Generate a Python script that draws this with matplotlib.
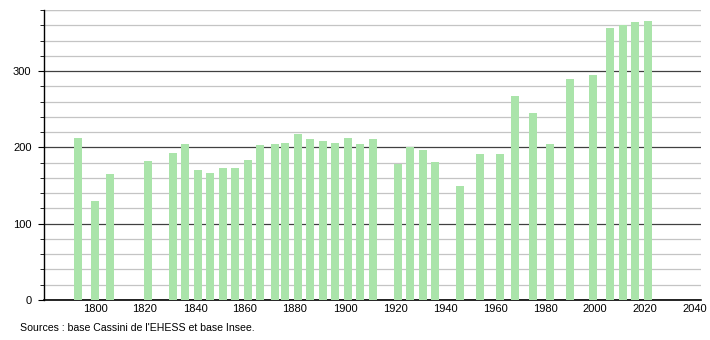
import matplotlib
matplotlib.use('Agg')
import matplotlib.pyplot as plt
from matplotlib.ticker import MultipleLocator

plt.rcParams['font.family'] = ['Liberation Sans', 'DejaVu Sans']

# census years and population
years = [1793, 1800, 1806, 1821, 1831, 1836, 1841, 1846, 1851, 1856, 1861,
         1866, 1872, 1876, 1881, 1886, 1891, 1896, 1901, 1906, 1911, 1921,
         1926, 1931, 1936, 1946, 1954, 1962, 1968, 1975, 1982, 1990, 1999,
         2006, 2011, 2016, 2021]
population = [212, 130, 165, 182, 192, 204, 170, 166, 173, 173, 183,
              203, 204, 206, 217, 211, 209, 206, 212, 204, 211, 178,
              201, 197, 181, 150, 191, 191, 267, 245, 204, 290, 295,
              357, 360, 364, 365]
x_ticks = [1800, 1820, 1840, 1860, 1880, 1900, 1920, 1940, 1960, 1980, 2000, 2020, 2040]
y_ticks = [0, 100, 200, 300]

fig = plt.figure(figsize=(7.1, 3.4), dpi=100)
ax = fig.add_axes([44 / 710, 40 / 340, 657 / 710, 290 / 340])

ax.bar(years, population, width=3.2, color='#aae4aa', zorder=3)

ax.set_xlim(1779.6, 2042.4)
ax.set_ylim(0, 380)
ax.set_xticks(x_ticks)
ax.set_yticks(y_ticks)
ax.yaxis.set_minor_locator(MultipleLocator(20))
ax.grid(axis='y', which='minor', color='#c4c4c4', lw=0.9, zorder=1)
ax.grid(axis='y', which='major', color='#404040', lw=0.9, zorder=2)
ax.axhline(380, color='#c4c4c4', lw=0.9, zorder=1)

for s in ['top', 'right']:
    ax.spines[s].set_visible(False)
ax.spines['left'].set_linewidth(1.0)
ax.spines['bottom'].set_linewidth(1.2)
ax.tick_params(axis='x', length=0, labelsize=8, pad=3)
ax.tick_params(axis='y', which='major', length=4, labelsize=8, pad=5)
ax.tick_params(axis='y', which='minor', length=3)

fig.text(20 / 710, 0.035, "Sources : base Cassini de l'EHESS et base Insee.",
         fontsize=7.6, va='center')

fig.savefig('out.png', dpi=100)
